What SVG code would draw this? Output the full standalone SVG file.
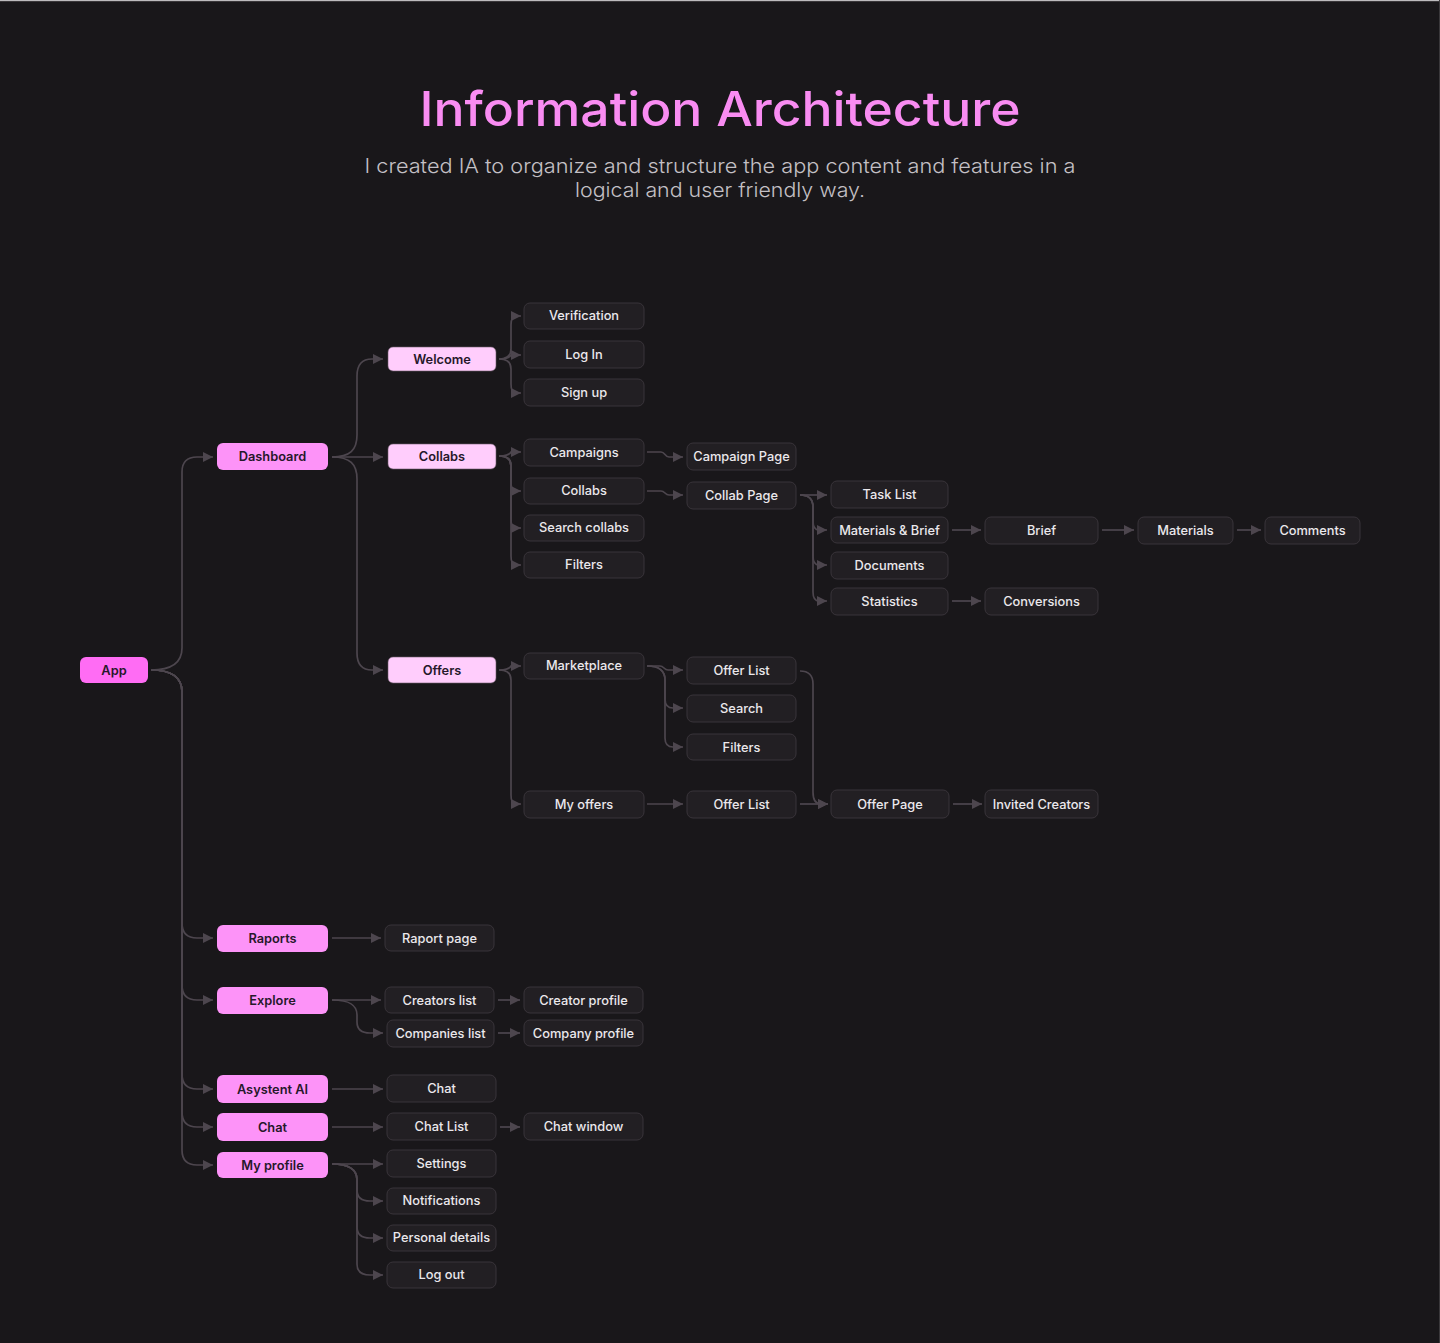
<svg xmlns="http://www.w3.org/2000/svg" width="1440" height="1343" viewBox="0 0 1440 1343">
<defs>
<marker id="ah" viewBox="0 0 10 10" refX="10" refY="5" markerWidth="10" markerHeight="11" markerUnits="userSpaceOnUse" orient="auto">
<path d="M0,0 L10,5 L0,10 z" fill="#4d464e"/>
</marker>
</defs>
<style>
.bg{fill:#19171a}
.title{font-family:Inter,"Open Sans",sans-serif;font-weight:500;font-size:48px;fill:#f98cf2}
.sub{font-family:Inter,"Open Sans",sans-serif;font-weight:300;font-size:20px;fill:#c4c0c5}
.n rect{fill:#221f23;stroke:#39343a;stroke-width:1}
.n text{font-family:Inter,"Open Sans",sans-serif;font-weight:500;font-size:12.8px;fill:#ebe8ec;text-anchor:middle}
.p1 rect{fill:#ff6cf4}
.p2 rect{fill:#fd93f8}
.p3 rect{fill:#ffcdfc;stroke:#6b5a6a;stroke-width:0.6}
.p1 text,.p2 text,.p3 text{font-family:Inter,"Open Sans",sans-serif;font-weight:600;font-size:12.8px;fill:#26182a;text-anchor:middle}
.c path{fill:none;stroke:#4d464e;stroke-width:1.7;marker-end:url(#ah)}
</style>
<rect class="bg" x="0" y="0" width="1440" height="1343"/>
<rect x="0" y="0" width="1440" height="1.2" fill="#bdbbbe"/>
<rect x="1439" y="0" width="1" height="1343" fill="#3a383b"/>
<text class="title" x="720" y="126" text-anchor="middle" textLength="601" lengthAdjust="spacingAndGlyphs">Information Architecture</text>
<text class="sub" x="720" y="173" text-anchor="middle" textLength="711" lengthAdjust="spacingAndGlyphs">I created IA to organize and structure the app content and features in a</text>
<text class="sub" x="720" y="197" text-anchor="middle" textLength="290" lengthAdjust="spacingAndGlyphs">logical and user friendly way.</text>

<g class="c" id="connectors">
<!-- App -->
<path d="M151,670 C170,670 182,664 182,648 V472 Q182,457 197,457 H213"/>
<path d="M151,670 C170,670 182,676 182,692 V923 Q182,938 197,938 H213"/>
<path d="M151,670 C170,670 182,676 182,692 V985 Q182,1000 197,1000 H213"/>
<path d="M151,670 C170,670 182,676 182,692 V1074 Q182,1089 197,1089 H213"/>
<path d="M151,670 C170,670 182,676 182,692 V1112 Q182,1127 197,1127 H213"/>
<path d="M151,670 C170,670 182,676 182,692 V1150 Q182,1165 197,1165 H213"/>
<!-- Dashboard -->
<path d="M332,457 C350,457 357,450 357,435 V376 Q357,359 372,359 H383"/>
<path d="M332,457 H383"/>
<path d="M332,457 C350,457 357,464 357,479 V653 Q357,670 372,670 H383"/>
<!-- Welcome -->
<path d="M499,359 Q509,359 511,355 H521"/>
<path d="M499,359 Q511,359 511,349 V325 Q511,316 516,316 H521"/>
<path d="M499,359 Q511,359 511,369 V384 Q511,393 516,393 H521"/>
<!-- Collabs L2 -->
<path d="M499,456 Q509,456 511,452 H521"/>
<path d="M499,456 Q511,456 511,466 V482 Q511,491 516,491 H521"/>
<path d="M499,456 Q511,456 511,466 V519 Q511,528 516,528 H521"/>
<path d="M499,456 Q511,456 511,466 V556 Q511,565 516,565 H521"/>
<!-- Offers -->
<path d="M499,670 Q509,670 511,666 H521"/>
<path d="M499,670 Q511,670 511,680 V795 Q511,804 516,804 H521"/>
<!-- Campaigns / Collabs -->
<path d="M647,452 H661 C665,452 665,457 669,457 H683"/>
<path d="M647,491 H661 C665,491 665,495 669,495 H683"/>
<!-- Collab Page -->
<path d="M800,495 H827"/>
<path d="M800,495 Q813,495 813,507 V521 Q813,530 819,530 H827"/>
<path d="M800,495 Q813,495 813,507 V556 Q813,565 819,565 H827"/>
<path d="M800,495 Q813,495 813,507 V592 Q813,601 819,601 H827"/>
<path d="M952,530 H981"/>
<path d="M1102,530 H1134"/>
<path d="M1237,530 H1261"/>
<path d="M952,601 H981"/>
<!-- Marketplace -->
<path d="M647,666 H660 C664,666 664,670 668,670 H683"/>
<path d="M647,666 C659,666 665,670 665,680 V699 Q665,708 673,708 H683"/>
<path d="M647,666 C659,666 665,670 665,680 V738 Q665,747 673,747 H683"/>
<path d="M647,804 H683"/>
<path d="M800,671 Q813,671 813,684 V792 Q813,804 821,804 H828"/>
<path d="M800,804 H828"/>
<path d="M953,804 H982"/>
<!-- Lower -->
<path d="M332,938 H381"/>
<path d="M332,1000 H381"/>
<path d="M332,1000 C350,1000 357,1005 357,1015 V1022 Q357,1033 370,1033 H383"/>
<path d="M498,1000 H520"/>
<path d="M498,1033 H520"/>
<path d="M332,1089 H383"/>
<path d="M332,1127 H383"/>
<path d="M500,1127 H520"/>
<path d="M332,1164 H383"/>
<path d="M332,1164 C350,1164 357,1170 357,1180 V1190 Q357,1201 370,1201 H383"/>
<path d="M332,1164 C350,1164 357,1170 357,1180 V1227 Q357,1238 370,1238 H383"/>
<path d="M332,1164 C350,1164 357,1170 357,1180 V1264 Q357,1275 370,1275 H383"/>
</g>

<g id="app" class="p1"><rect x="80" y="657" width="68" height="26" rx="6"/><text x="114" y="674.5">App</text></g>

<g id="dashboard" class="p2"><rect x="217" y="443" width="111" height="27" rx="6"/><text x="272.5" y="461">Dashboard</text></g>
<g id="raports" class="p2"><rect x="217" y="925" width="111" height="27" rx="6"/><text x="272.5" y="943">Raports</text></g>
<g id="explore" class="p2"><rect x="217" y="987" width="111" height="27" rx="6"/><text x="272.5" y="1005">Explore</text></g>
<g id="asystent" class="p2"><rect x="217" y="1075" width="111" height="28" rx="6"/><text x="272.5" y="1093.5">Asystent AI</text></g>
<g id="chat-l1" class="p2"><rect x="217" y="1113" width="111" height="28" rx="6"/><text x="272.5" y="1131.5">Chat</text></g>
<g id="myprofile" class="p2"><rect x="217" y="1152" width="111" height="26" rx="6"/><text x="272.5" y="1169.5">My profile</text></g>

<g id="welcome" class="p3"><rect x="388" y="347" width="108" height="24" rx="5"/><text x="442" y="363.5">Welcome</text></g>
<g id="collabs-l2" class="p3"><rect x="388" y="444" width="108" height="25" rx="5"/><text x="442" y="461">Collabs</text></g>
<g id="offers" class="p3"><rect x="388" y="657" width="108" height="26" rx="5"/><text x="442" y="674.5">Offers</text></g>

<g id="verification" class="n"><rect x="524" y="303" width="120" height="26" rx="6"/><text x="584" y="320">Verification</text></g>
<g id="login" class="n"><rect x="524" y="341" width="120" height="27" rx="6"/><text x="584" y="358.5">Log In</text></g>
<g id="signup" class="n"><rect x="524" y="379" width="120" height="27" rx="6"/><text x="584" y="396.5">Sign up</text></g>
<g id="campaigns" class="n"><rect x="524" y="439" width="120" height="27" rx="6"/><text x="584" y="456.5">Campaigns</text></g>
<g id="collabs-l3" class="n"><rect x="524" y="478" width="120" height="26" rx="6"/><text x="584" y="495">Collabs</text></g>
<g id="searchcollabs" class="n"><rect x="524" y="515" width="120" height="26" rx="6"/><text x="584" y="532">Search collabs</text></g>
<g id="filters1" class="n"><rect x="524" y="552" width="120" height="26" rx="6"/><text x="584" y="569">Filters</text></g>
<g id="marketplace" class="n"><rect x="524" y="653" width="120" height="26" rx="6"/><text x="584" y="670">Marketplace</text></g>
<g id="myoffers" class="n"><rect x="524" y="791" width="120" height="27" rx="6"/><text x="584" y="808.5">My offers</text></g>

<g id="campaignpage" class="n"><rect x="687" y="443" width="109" height="27" rx="6"/><text x="741.5" y="461">Campaign Page</text></g>
<g id="collabpage" class="n"><rect x="687" y="482" width="109" height="27" rx="6"/><text x="741.5" y="500">Collab Page</text></g>
<g id="offerlist1" class="n"><rect x="687" y="657" width="109" height="27" rx="6"/><text x="741.5" y="675">Offer List</text></g>
<g id="search" class="n"><rect x="687" y="695" width="109" height="27" rx="6"/><text x="741.5" y="713">Search</text></g>
<g id="filters2" class="n"><rect x="687" y="734" width="109" height="26" rx="6"/><text x="741.5" y="751.5">Filters</text></g>
<g id="offerlist2" class="n"><rect x="687" y="791" width="109" height="27" rx="6"/><text x="741.5" y="809">Offer List</text></g>

<g id="tasklist" class="n"><rect x="831" y="481" width="117" height="27" rx="6"/><text x="889.5" y="499">Task List</text></g>
<g id="materialsbrief" class="n"><rect x="831" y="517" width="117" height="26" rx="6"/><text x="889.5" y="534.5">Materials &amp; Brief</text></g>
<g id="documents" class="n"><rect x="831" y="552" width="117" height="27" rx="6"/><text x="889.5" y="570">Documents</text></g>
<g id="statistics" class="n"><rect x="831" y="588" width="117" height="27" rx="6"/><text x="889.5" y="605.5">Statistics</text></g>
<g id="offerpage" class="n"><rect x="831" y="790" width="118" height="28" rx="6"/><text x="890" y="808.5">Offer  Page</text></g>

<g id="brief" class="n"><rect x="985" y="517" width="113" height="27" rx="6"/><text x="1041.5" y="534.5">Brief</text></g>
<g id="conversions" class="n"><rect x="985" y="588" width="113" height="27" rx="6"/><text x="1041.5" y="605.5">Conversions</text></g>
<g id="invited" class="n"><rect x="985" y="790" width="113" height="28" rx="6"/><text x="1041.5" y="808.5">Invited Creators</text></g>
<g id="materials" class="n"><rect x="1138" y="517" width="95" height="27" rx="6"/><text x="1185.5" y="534.5">Materials</text></g>
<g id="comments" class="n"><rect x="1265" y="517" width="95" height="27" rx="6"/><text x="1312.5" y="534.5">Comments</text></g>

<g id="raportpage" class="n"><rect x="385" y="925" width="109" height="26" rx="6"/><text x="439.5" y="942.5">Raport page</text></g>
<g id="creatorslist" class="n"><rect x="385" y="987" width="109" height="26" rx="6"/><text x="439.5" y="1004.5">Creators list</text></g>
<g id="companieslist" class="n"><rect x="387" y="1020" width="107" height="27" rx="6"/><text x="440.5" y="1037.5">Companies list</text></g>
<g id="creatorprofile" class="n"><rect x="524" y="987" width="119" height="26" rx="6"/><text x="583.5" y="1004.5">Creator profile</text></g>
<g id="companyprofile" class="n"><rect x="524" y="1020" width="119" height="26" rx="6"/><text x="583.5" y="1037.5">Company profile</text></g>
<g id="chat-ai" class="n"><rect x="387" y="1075" width="109" height="27" rx="6"/><text x="441.5" y="1092.5">Chat</text></g>
<g id="chatlist" class="n"><rect x="387" y="1113" width="109" height="27" rx="6"/><text x="441.5" y="1130.5">Chat List</text></g>
<g id="chatwindow" class="n"><rect x="524" y="1113" width="119" height="27" rx="6"/><text x="583.5" y="1130.5">Chat window</text></g>
<g id="settings" class="n"><rect x="387" y="1150" width="109" height="27" rx="6"/><text x="441.5" y="1167.5">Settings</text></g>
<g id="notifications" class="n"><rect x="387" y="1188" width="109" height="26" rx="6"/><text x="441.5" y="1205">Notifications</text></g>
<g id="personal" class="n"><rect x="387" y="1225" width="109" height="26" rx="6"/><text x="441.5" y="1242">Personal details</text></g>
<g id="logout" class="n"><rect x="387" y="1262" width="109" height="26" rx="6"/><text x="441.5" y="1279">Log out</text></g>
</svg>
